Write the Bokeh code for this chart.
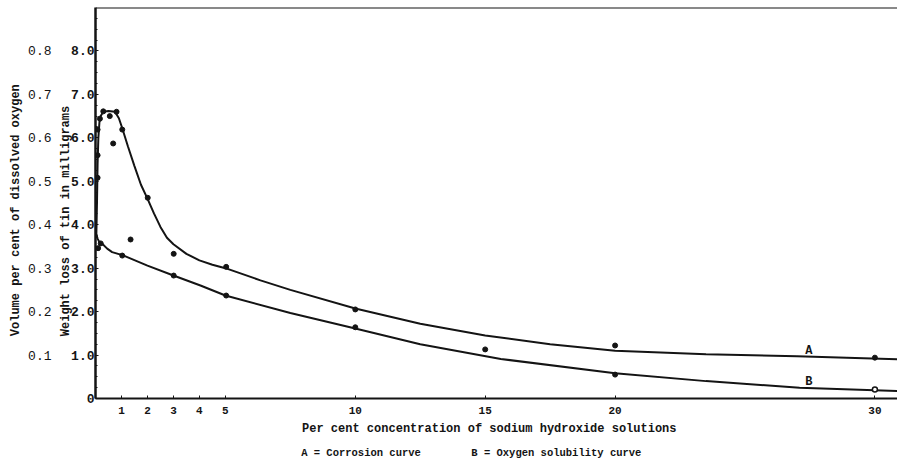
from bokeh.plotting import figure
from bokeh.models import (Range1d, LinearAxis, FixedTicker, Label, Span,
                          PrintfTickFormatter)
from bokeh.embed import file_html
from bokeh.resources import INLINE

# ---- data ----
x_ticks = [1, 2, 3, 4, 5, 10, 15, 20, 30]
weight_ticks = [0, 1, 2, 3, 4, 5, 6, 7, 8]
volume_ticks = [0.1, 0.2, 0.3, 0.4, 0.5, 0.6, 0.7, 0.8]

# Curve A: corrosion (weight loss of tin, mg)
corrosion_obs_x = [0.08, 0.08, 0.08, 0.17, 0.30, 0.55, 0.81, 0.68, 1.03, 1.35,
                   2.01, 3.01, 5.03, 10, 20, 30]
corrosion_obs_y = [6.19, 5.60, 5.08, 6.44, 6.61, 6.50, 6.60, 5.87, 6.19, 3.66,
                   4.62, 3.33, 3.03, 2.05, 1.22, 0.94]
corrosion_curve_x = [0.03, 0.06, 0.08, 0.11, 0.15, 0.2, 0.3, 0.5, 0.75, 0.9,
                     1.03, 1.25, 1.5, 1.75, 2.0, 2.25, 2.5, 2.75, 3.0, 3.5,
                     4.0, 4.5, 5.0, 6.35, 7.5, 10, 12.5, 15, 17.5, 20, 23.5,
                     27, 31]
corrosion_curve_y = [3.70, 4.60, 5.40, 6.00, 6.35, 6.50, 6.60, 6.62, 6.60, 6.45,
                     6.22, 5.80, 5.35, 4.92, 4.60, 4.26, 3.95, 3.70, 3.55, 3.33,
                     3.18, 3.08, 3.00, 2.72, 2.50, 2.07, 1.72, 1.45, 1.25, 1.10,
                     1.02, 0.97, 0.90]

# Curve B: oxygen solubility (volume per cent of dissolved oxygen)
oxygen_obs_x = [0.10, 0.20, 1.03, 3.01, 5.03, 10, 15, 20]
oxygen_obs_y = [0.346, 0.357, 0.329, 0.283, 0.237, 0.164, 0.113, 0.055]
oxygen_open_x = [30]
oxygen_open_y = [0.021]
oxygen_curve_x = [0.03, 0.08, 0.15, 0.26, 0.45, 0.64, 1.04, 2.0, 3.0, 4.04,
                  5.0, 7.5, 10, 12.5, 15.6, 20, 23.5, 27.1, 31]
oxygen_curve_y = [0.378, 0.368, 0.360, 0.356, 0.345, 0.337, 0.330, 0.306,
                  0.283, 0.260, 0.237, 0.197, 0.161, 0.125, 0.091, 0.058,
                  0.040, 0.025, 0.017]

x_title = "Per cent concentration of sodium hydroxide solutions"
key_a = "A = Corrosion curve"
key_b = "B = Oxygen solubility curve"
vol_title = "Volume per cent of dissolved oxygen"
weight_title = "Weight loss of tin in milligrams"

FONT = "Liberation Mono"
INK = "#141414"
NB = "\u00a0"

p = figure(width=897, height=463, output_backend="svg", toolbar_location=None,
           x_range=Range1d(0, 30.87), y_range=Range1d(0, 9.0),
           min_border_left=95, min_border_right=0, min_border_top=7,
           min_border_bottom=65)
p.outline_line_color = None
p.xgrid.visible = False
p.ygrid.visible = False
p.background_fill_color = "white"
p.border_fill_color = "white"
p.extra_y_ranges = {"vol": Range1d(0, 0.9)}

# x axis
xa = p.xaxis[0]
xa.ticker = FixedTicker(ticks=x_ticks)
xa.axis_line_width = 2
xa.axis_line_color = INK
xa.major_tick_in = 3
xa.major_tick_out = 0
xa.major_tick_line_color = INK
xa.minor_tick_line_color = None
xa.major_label_standoff = 8
xa.major_label_text_font = FONT
xa.major_label_text_font_style = "bold"
xa.major_label_text_font_size = "11px"
xa.major_label_text_color = INK
xa.axis_label = x_title + NB * 2
xa.axis_label_standoff = 5
xa.axis_label_text_font = FONT
xa.axis_label_text_font_style = "bold"
xa.axis_label_text_font_size = "12px"
xa.axis_label_text_color = INK

# second bottom axis carrying the key line
ka = LinearAxis(ticker=FixedTicker(ticks=[]))
ka.axis_line_color = None
ka.major_tick_line_color = None
ka.minor_tick_line_color = None
ka.major_label_text_font_size = "0px"
ka.major_label_standoff = 0
ka.axis_label = key_a + NB * 8 + key_b + NB * 8
ka.axis_label_standoff = 8
ka.axis_label_text_font = FONT
ka.axis_label_text_font_style = "bold"
ka.axis_label_text_font_size = "10.5px"
ka.axis_label_text_color = INK
p.add_layout(ka, "below")

# weight axis (inner left)
ya = p.yaxis[0]
ya.ticker = FixedTicker(ticks=weight_ticks,
                        minor_ticks=[i * 0.25 for i in range(36)])
ya.formatter = PrintfTickFormatter(format="%.1f")
ya.major_label_overrides = {0: "0"}
ya.axis_line_width = 2.5
ya.axis_line_color = INK
ya.major_tick_in = 3
ya.major_tick_out = 0
ya.minor_tick_in = 2
ya.minor_tick_out = 0
ya.major_tick_line_color = INK
ya.minor_tick_line_color = INK
ya.major_label_standoff = 1
ya.major_label_text_font = FONT
ya.major_label_text_font_style = "bold"
ya.major_label_text_font_size = "13px"
ya.major_label_text_color = INK
ya.axis_label = weight_title + NB * 5
ya.axis_label_standoff = -5
ya.axis_label_text_font = FONT
ya.axis_label_text_font_style = "bold"
ya.axis_label_text_font_size = "12px"
ya.axis_label_text_color = INK

# volume axis (outer left)
va = LinearAxis(y_range_name="vol", ticker=FixedTicker(ticks=volume_ticks))
va.axis_line_color = None
va.major_tick_line_color = None
va.minor_tick_line_color = None
va.major_label_standoff = -1
va.major_label_text_font = FONT
va.major_label_text_font_size = "13px"
va.major_label_text_color = INK
va.axis_label = vol_title + NB * 2
va.axis_label_standoff = 2
va.axis_label_text_font = FONT
va.axis_label_text_font_style = "bold"
va.axis_label_text_font_size = "12px"
va.axis_label_text_color = INK
p.add_layout(va, "left")

# top border
p.add_layout(Span(location=9.0, dimension="width", line_color=INK,
                  line_width=2))

# curves
p.line(corrosion_curve_x, corrosion_curve_y, line_color=INK, line_width=2)
p.line(oxygen_curve_x, oxygen_curve_y, y_range_name="vol", line_color=INK,
       line_width=2)
p.scatter(corrosion_obs_x, corrosion_obs_y, size=5, color=INK)
p.scatter(oxygen_obs_x, oxygen_obs_y, y_range_name="vol", size=5, color=INK)
p.scatter(oxygen_open_x, oxygen_open_y, y_range_name="vol", size=5,
          fill_color="white", line_color=INK, line_width=1.5)

# curve letters
p.add_layout(Label(x=27.46, y=1.1, text="A", text_font=FONT,
                   text_font_style="bold", text_font_size="12px",
                   text_align="center", text_baseline="middle",
                   text_color=INK))
p.add_layout(Label(x=27.46, y=0.38, text="B", text_font=FONT,
                   text_font_style="bold", text_font_size="12px",
                   text_align="center", text_baseline="middle",
                   text_color=INK))

open("out.html", "w").write(file_html(p, INLINE))
